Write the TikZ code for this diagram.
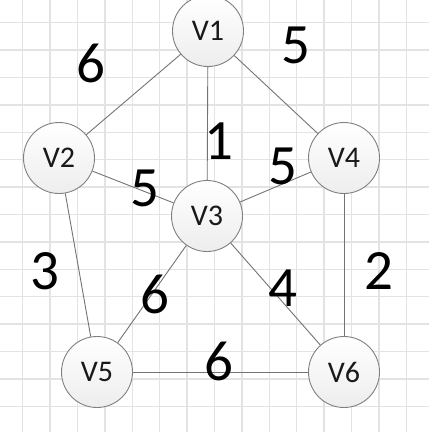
\documentclass[tikz,border=0pt]{standalone}
\usepackage{fontspec}
\setmainfont{Carlito}
\begin{document}
\begin{tikzpicture}[x=1pt,y=-1pt,
  vertex/.style={circle, draw=black!50, line width=0.9pt, minimum size=71pt, inner sep=0pt,
    top color=white, bottom color=black!7, font=\fontsize{30}{32}\selectfont, text=black!90},
  edge/.style={draw=black!55, line width=0.9pt},
  weight/.style={font=\fontsize{57}{60}\selectfont, inner sep=0pt, text=black},
  gridline/.style={draw=black!11, line width=1.3pt}]
\useasboundingbox (0,0) rectangle (429,432);
\begin{scope}
\clip (0,0) rectangle (429,432);
\foreach \k in {0,...,15} {
  \draw[gridline] ({22.7+27.4*\k},0) -- ({22.7+27.4*\k},432);
  \draw[gridline] (0,{22.7+27.4*\k}) -- (429,{22.7+27.4*\k});
}
\end{scope}
% vertices
\node[vertex] (v1) at (208,31) {V1};
\node[vertex] (v2) at (59,158) {V2};
\node[vertex] (v3) at (207,216) {V3};
\node[vertex] (v4) at (344,158) {V4};
\node[vertex] (v5) at (97,372) {V5};
\node[vertex] (v6) at (344,372) {V6};
% edges
\path[edge] (v1) -- (v2);
\path[edge] (v1) -- (v3);
\path[edge] (v1) -- (v4);
\path[edge] (v2) -- (v3);
\path[edge] (v2) -- (v5);
\path[edge] (v3) -- (v4);
\path[edge] (v3) -- (v5);
\path[edge] (v3) -- (v6);
\path[edge] (v4) -- (v6);
\path[edge] (v5) -- (v6);
% weights
\node[weight] (w12) at (90.5,63.5) {6};
\node[weight] (w14) at (296,45.5) {5};
\node[weight] (w13) at (219,141.5) {1};
\node[weight] (w23) at (145,188.5) {5};
\node[weight] (w34) at (282.5,166.5) {5};
\node[weight] (w25) at (45,271) {3};
\node[weight] (w35) at (154.5,294.5) {6};
\node[weight] (w36) at (282.5,288.5) {4};
\node[weight] (w46) at (379,271.5) {2};
\node[weight] (w56) at (219,361.5) {6};
\end{tikzpicture}
\end{document}
